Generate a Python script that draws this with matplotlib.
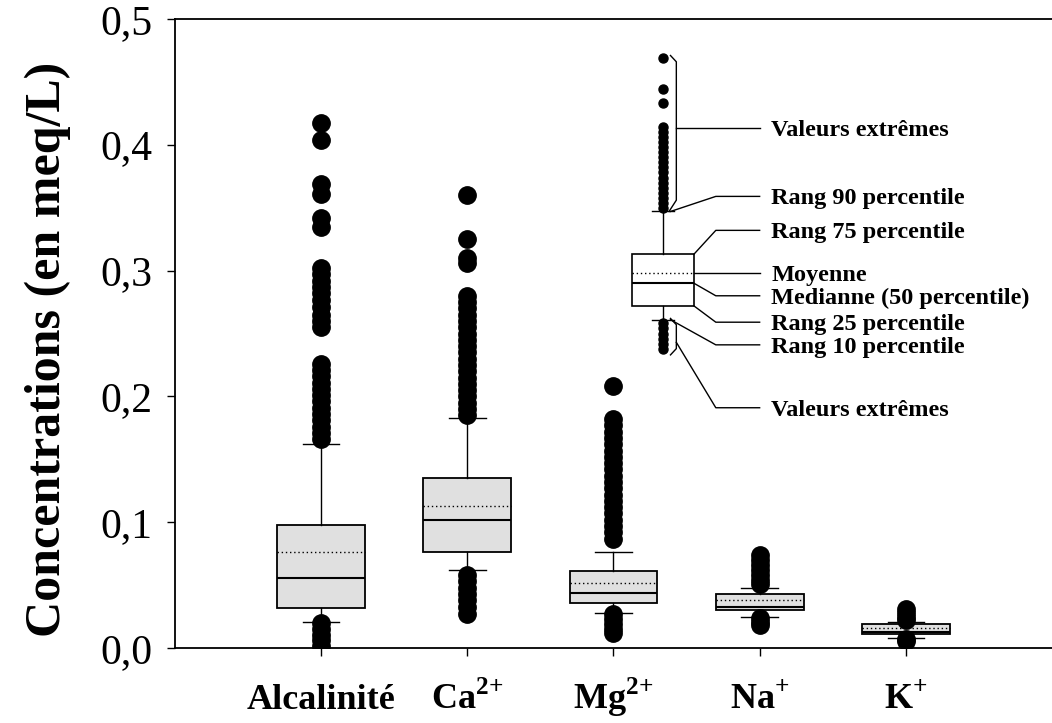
import matplotlib
matplotlib.use("Agg")
import matplotlib.pyplot as plt

plt.rcParams['font.family'] = ['Liberation Serif', 'DejaVu Serif']
plt.rcParams['mathtext.fontset'] = 'custom'
plt.rcParams['mathtext.rm'] = 'Liberation Serif:bold'
plt.rcParams['mathtext.bf'] = 'Liberation Serif:bold'

# data (meq/L)
ions = ['Alcalinité', r'Ca$^{\mathbf{2}\text{+}}$', r'Mg$^{\mathbf{2}\text{+}}$',
        r'Na$^{\text{+}}$', r'K$^{\text{+}}$']
q1 = [0.032, 0.076, 0.036, 0.030, 0.011]
med = [0.056, 0.102, 0.044, 0.033, 0.013]
q3 = [0.098, 0.135, 0.061, 0.043, 0.019]
mean = [0.076, 0.113, 0.052, 0.038, 0.016]
p10 = [0.021, 0.062, 0.028, 0.025, 0.008]
p90 = [0.162, 0.183, 0.076, 0.048, 0.021]

alc_out = [0.417, 0.404, 0.369, 0.361, 0.342, 0.335,
           0.302, 0.297, 0.292, 0.287, 0.282, 0.277, 0.271, 0.265, 0.260, 0.255,
           0.226, 0.221, 0.216, 0.211, 0.206, 0.201, 0.196, 0.191, 0.186, 0.181,
           0.176, 0.171, 0.166,
           0.020, 0.015, 0.010, 0.006, 0.002]
ca_out = [0.360, 0.325, 0.310, 0.306,
          0.280, 0.275, 0.270, 0.265, 0.260, 0.255, 0.250, 0.245, 0.240, 0.235,
          0.230, 0.225, 0.220, 0.215, 0.210, 0.205, 0.200, 0.195, 0.190, 0.185,
          0.058, 0.053, 0.048, 0.043, 0.038, 0.033, 0.027]
mg_out = [0.208,
          0.182, 0.177, 0.172, 0.167, 0.162, 0.157, 0.152, 0.147, 0.142, 0.137,
          0.132, 0.127, 0.122, 0.117, 0.112, 0.107, 0.102, 0.097, 0.092, 0.087,
          0.027, 0.023, 0.019, 0.015, 0.012]
na_out = [0.074, 0.070, 0.066, 0.062, 0.058, 0.054, 0.051,
          0.024, 0.021, 0.018]
k_out = [0.031, 0.028, 0.025, 0.022, 0.0075, 0.0055]
outliers = [alc_out, ca_out, mg_out, na_out, k_out]

# explanatory box (legend)
leg_q1, leg_med, leg_q3, leg_mean = 0.272, 0.290, 0.313, 0.298
leg_p10, leg_p90 = 0.261, 0.347
leg_out = [0.469, 0.444, 0.433,
           0.414, 0.410, 0.406, 0.402, 0.398, 0.394, 0.390, 0.386, 0.382, 0.378,
           0.374, 0.370, 0.366, 0.362, 0.358, 0.354, 0.350,
           0.258, 0.254, 0.250, 0.246, 0.242, 0.238]
leg_labels = ['Valeurs extrêmes', 'Rang 90 percentile', 'Rang 75 percentile', 'Moyenne',
              'Medianne (50 percentile)', 'Rang 25 percentile', 'Rang 10 percentile',
              'Valeurs extrêmes']
leg_label_y = [0.4136, 0.359, 0.332, 0.298, 0.280, 0.259, 0.241, 0.191]

fig = plt.figure(figsize=(10.52, 7.23), dpi=100)
ax = fig.add_axes([0.1663, 0.1037, 0.8337, 0.870])

positions = [1, 2, 3, 4, 5]
stats = []
for i in range(len(ions)):
    stats.append(dict(med=med[i], q1=q1[i], q3=q3[i], whislo=p10[i], whishi=p90[i],
                      mean=mean[i], fliers=outliers[i]))

common = dict(patch_artist=True, showmeans=True, meanline=True,
              medianprops=dict(color='black', linewidth=1.5),
              meanprops=dict(color='black', linestyle=(0, (1, 2)), linewidth=1),
              whiskerprops=dict(color='black', linewidth=1),
              capprops=dict(color='black', linewidth=1))

ax.bxp(stats, positions=positions, widths=0.6, capwidths=0.25,
       boxprops=dict(facecolor='#e0e0e0', edgecolor='black', linewidth=1.3),
       flierprops=dict(marker='o', markerfacecolor='black', markeredgecolor='black',
                       markersize=12.5),
       **common)

leg_x = 3.34
leg_w = 0.42
leg_stats = [dict(med=leg_med, q1=leg_q1, q3=leg_q3, whislo=leg_p10, whishi=leg_p90,
                  mean=leg_mean, fliers=leg_out)]
ax.bxp(leg_stats, positions=[leg_x], widths=leg_w, capwidths=0.15,
       boxprops=dict(facecolor='white', edgecolor='black', linewidth=1.2),
       flierprops=dict(marker='o', markerfacecolor='black', markeredgecolor='black',
                       markersize=6.5),
       **common)

# leader lines
right = leg_x + leg_w / 2
brk = 3.43
knee = 3.70
end = 4.0
text_x = 4.08
lw = 1.0
# upper bracket
ax.plot([brk - 0.04, brk, brk, brk - 0.05], [0.471, 0.466, 0.356, leg_p90], color='black', lw=lw)
ax.plot([brk, end], [leg_label_y[0], leg_label_y[0]], color='black', lw=lw)
starts = [(leg_x + 0.05, leg_p90), (right, leg_q3), (right, leg_mean), (right, leg_med),
          (right, leg_q1), (leg_x + 0.05, leg_p10), (brk, 0.243)]
for (sx, sy), ty in zip(starts, leg_label_y[1:]):
    ax.plot([sx, knee, end], [sy, ty, ty], color='black', lw=lw)
# lower bracket
ax.plot([brk - 0.04, brk, brk, brk - 0.04], [0.262, 0.257, 0.238, 0.233], color='black', lw=lw)

for lab, ty in zip(leg_labels, leg_label_y):
    ax.text(text_x, ty, lab, fontsize=17.5, fontweight='bold', va='center_baseline', ha='left')

ax.set_xlim(0, 6)
ax.set_ylim(0, 0.5)
ax.set_yticks([0, 0.1, 0.2, 0.3, 0.4, 0.5])
ax.set_yticklabels(['0,0', '0,1', '0,2', '0,3', '0,4', '0,5'])
ax.set_xticks(positions)
ax.set_xticklabels(ions, fontsize=26, fontweight='bold')
for lbl in ax.get_xticklabels():
    lbl.set_va('baseline')
ax.tick_params(axis='y', direction='out', length=6, width=1, labelsize=30, pad=10)
ax.tick_params(axis='x', direction='out', length=6, width=1, pad=38)

ax.spines['right'].set_visible(False)
for s in ['left', 'bottom', 'top']:
    ax.spines[s].set_linewidth(1.3)

ax.set_ylabel('Concentrations (en meq/L)', fontsize=36, fontweight='bold')
ax.yaxis.set_label_coords(-0.118, 0.474)

fig.savefig('out.png', dpi=100)
